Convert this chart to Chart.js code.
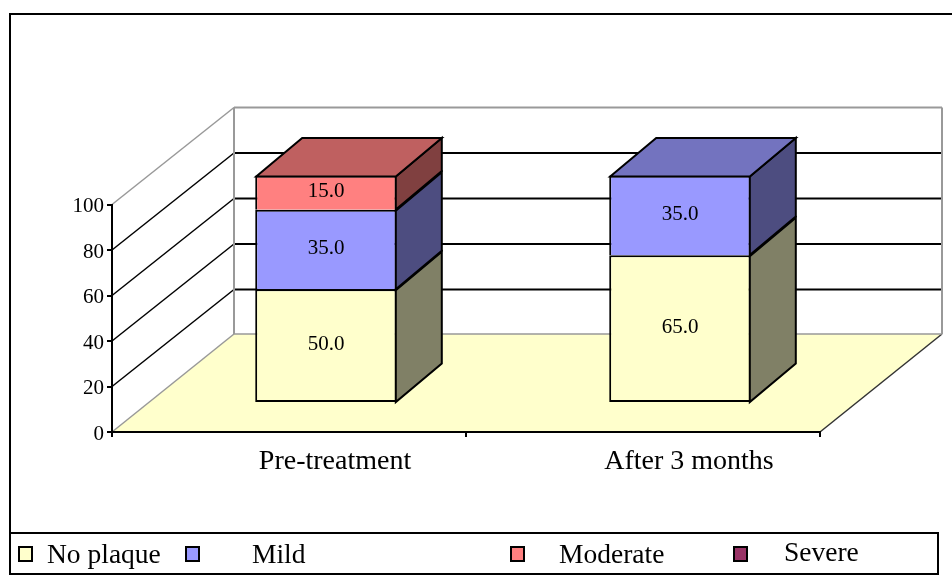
<!DOCTYPE html>
<html>
<head>
<meta charset="utf-8">
<script src="https://cdn.jsdelivr.net/npm/chart.js@4"></script>
<style>
  body { margin: 0; background: #fff; }
  canvas { display: block; }
</style>
</head>
<body>
<canvas id="grafico" width="952" height="577"></canvas>
<script>
const categorias = ["Pre-treatment", "After 3 months"];
const noPlaque = [50, 65];
const mild = [35, 35];
const moderate = [15, 0];
const severe = [0, 0];
const yTicks = [0, 20, 40, 60, 80, 100];

const serif = "'Liberation Serif', 'Times New Roman', serif";

// profundidade do "3D": parede do fundo e caixas
const wall = { dx: 122, dy: -98 };
const box = { dx: 46, dy: -38.5 };
const barShift = { x: 37, y: -29 };

function poly(ctx, pts, fill, stroke, lw) {
  ctx.beginPath();
  pts.forEach((p, i) => (i ? ctx.lineTo(p[0], p[1]) : ctx.moveTo(p[0], p[1])));
  ctx.closePath();
  if (fill) {
    ctx.fillStyle = fill;
    ctx.fill();
  }
  if (stroke) {
    ctx.strokeStyle = stroke;
    ctx.lineWidth = lw;
    ctx.stroke();
  }
}

function line(ctx, x1, y1, x2, y2, color, lw) {
  ctx.beginPath();
  ctx.moveTo(x1, y1);
  ctx.lineTo(x2, y2);
  ctx.strokeStyle = color;
  ctx.lineWidth = lw;
  ctx.stroke();
}

const fundo3d = {
  id: "fundo3d",
  beforeDraw(chart) {
    const { ctx, scales } = chart;
    const l = scales.x.left, r = scales.x.right;
    const y0 = scales.y.getPixelForValue(0);
    ctx.save();
    ctx.fillStyle = "#fff";
    ctx.fillRect(0, 0, 952, 577);
    // moldura (sem lado direito) e caixa da legenda
    line(ctx, 9, 14, 952, 14, "#000", 2);
    line(ctx, 10, 14, 10, 574, "#000", 2);
    ctx.strokeStyle = "#000";
    ctx.lineWidth = 2;
    ctx.strokeRect(10, 533, 928, 41);

    // chão
    poly(ctx, [[l, y0], [r, y0], [r + wall.dx, y0 + wall.dy], [l + wall.dx, y0 + wall.dy]], "#ffffcc");
    line(ctx, l, y0, l + wall.dx, y0 + wall.dy, "#999", 1.5);
    line(ctx, r, y0, r + wall.dx, y0 + wall.dy, "#333", 1.5);

    // paredes e linhas de grade
    yTicks.forEach((v) => {
      const y = scales.y.getPixelForValue(v);
      if (v === 0) {
        line(ctx, l + wall.dx, y + wall.dy, r + wall.dx, y + wall.dy, "#999", 1.5);
        return;
      }
      const cor = v === 100 ? "#999" : "#000";
      line(ctx, l, y, l + wall.dx, y + wall.dy + 1, cor, 1.5);
      line(ctx, l + wall.dx, y + wall.dy + 1, r + wall.dx, y + wall.dy + 1, cor, 2);
    });
    const yTop = scales.y.getPixelForValue(100) + wall.dy + 1;
    line(ctx, l + wall.dx, yTop, l + wall.dx, y0 + wall.dy, "#999", 2);
    line(ctx, r + wall.dx, yTop, r + wall.dx, y0 + wall.dy, "#999", 2);
    ctx.restore();
  },
  beforeDatasetsDraw(chart) {
    chart.ctx.save();
    chart.ctx.translate(barShift.x, barShift.y);
  },
  afterDatasetsDraw(chart) {
    const { ctx } = chart;
    const topo = {};
    chart.data.datasets.forEach((ds, i) => {
      chart.getDatasetMeta(i).data.forEach((bar, j) => {
        if (!ds.data[j]) return;
        const r = bar.x + bar.width / 2 - 1;
        const l = bar.x - bar.width / 2 + 1;
        poly(ctx, [[r, bar.y + 1], [r + box.dx, bar.y + 1 + box.dy], [r + box.dx, bar.base + box.dy], [r, bar.base]], ds.sideColor, "#000", 2);
        topo[j] = { l, r, y: bar.y + 1, cor: ds.topColor };
      });
    });
    Object.values(topo).forEach((t) => {
      poly(ctx, [[t.l, t.y], [t.r, t.y], [t.r + box.dx, t.y + box.dy], [t.l + box.dx, t.y + box.dy]], t.cor, "#000", 2);
    });
    // valores nas barras
    ctx.font = "21px " + serif;
    ctx.fillStyle = "#000";
    ctx.textAlign = "center";
    ctx.textBaseline = "middle";
    chart.data.datasets.forEach((ds, i) => {
      chart.getDatasetMeta(i).data.forEach((bar, j) => {
        if (!ds.data[j]) return;
        ctx.fillText(ds.data[j].toFixed(1), bar.x, (bar.y + bar.base) / 2 - 1);
      });
    });
    ctx.restore();
  },
  afterDraw(chart) {
    // legenda com o espaçamento irregular do original
    const { ctx } = chart;
    const pos = [[19, 47, 563], [186, 252, 563], [511, 559, 563], [734, 784, 561]];
    ctx.save();
    ctx.font = "27.5px " + serif;
    ctx.textAlign = "left";
    ctx.textBaseline = "alphabetic";
    chart.data.datasets.forEach((ds, i) => {
      const p = pos[i];
      ctx.fillStyle = ds.backgroundColor;
      ctx.strokeStyle = "#000";
      ctx.lineWidth = 2;
      ctx.fillRect(p[0], 547, 13, 14);
      ctx.strokeRect(p[0], 547, 13, 14);
      ctx.fillStyle = "#000";
      ctx.fillText(ds.label, p[1], p[2]);
    });
    ctx.restore();
  },
};

function serie(label, data, cor, topColor, sideColor, bottom) {
  return {
    label, data, topColor, sideColor,
    backgroundColor: cor,
    borderColor: "#000",
    borderWidth: { top: 2, left: 2, right: 2, bottom },
    borderSkipped: false,
    categoryPercentage: 1,
    barPercentage: 0.4,
    clip: false,
  };
}

new Chart(document.getElementById("grafico"), {
  type: "bar",
  data: {
    labels: categorias,
    datasets: [
      serie("No plaque", noPlaque, "#ffffcc", "#bfbf99", "#808066", 2),
      serie("Mild", mild, "#9999ff", "#7373bf", "#4d4d80", 0),
      serie("Moderate", moderate, "#ff8080", "#bf6060", "#804040", 0),
      serie("Severe", severe, "#993366", "#73264d", "#4d1a33", 0),
    ],
  },
  plugins: [fundo3d],
  options: {
    responsive: false,
    animation: false,
    layout: { padding: { left: 0, top: 204.5, right: 132, bottom: 0 } },
    plugins: { legend: { display: false }, tooltip: { enabled: false } },
    scales: {
      x: {
        stacked: true,
        afterFit(s) { s.height = 145; },
        border: { color: "#000", width: 2 },
        grid: { drawOnChartArea: false, color: "#000", lineWidth: 2, tickLength: 5 },
        ticks: {
          color: "#000",
          font: { family: serif, size: 28 },
          labelOffset: 46,
          padding: 8,
          maxRotation: 0,
        },
      },
      y: {
        stacked: true,
        min: 0,
        max: 100,
        afterFit(s) { s.width = 112; },
        afterBuildTicks(s) { s.ticks = yTicks.map((v) => ({ value: v })); },
        border: { color: "#000", width: 2 },
        grid: { drawOnChartArea: false, color: "#000", lineWidth: 2, tickLength: 5 },
        ticks: { color: "#000", font: { family: serif, size: 21 }, padding: 3, labelOffset: 2 },
      },
    },
  },
});
</script>
</body>
</html>
